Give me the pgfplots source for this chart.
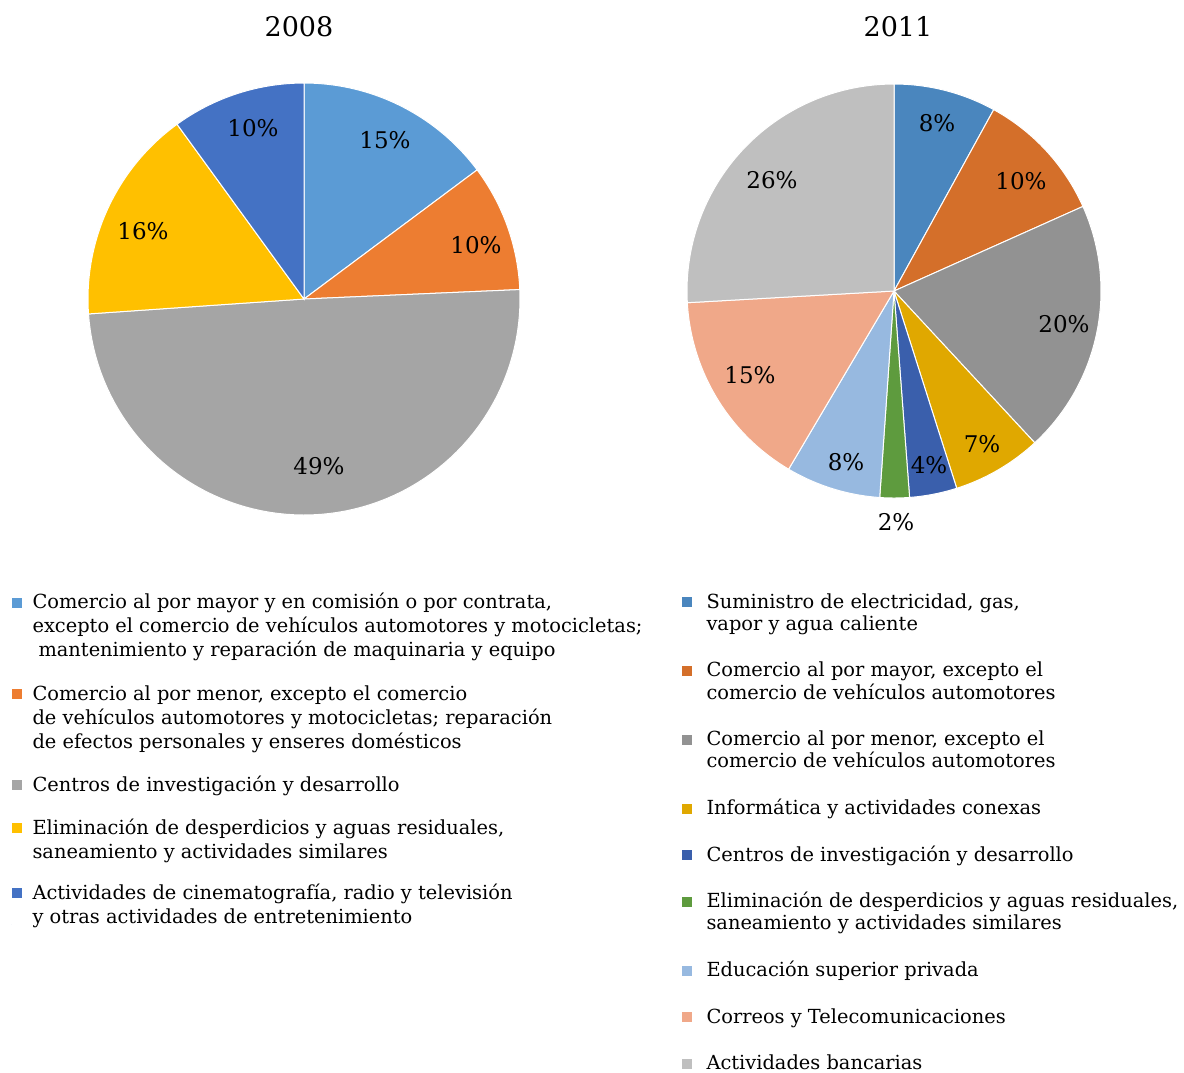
\documentclass[border=0pt]{standalone}
\usepackage{pgfplots}
\pgfplotsset{compat=1.18}
\usepgfplotslibrary{polar}
\usepackage{fontspec}
\setmainfont{DejaVu Serif}
\definecolor{a1}{HTML}{5B9BD5}
\definecolor{a2}{HTML}{ED7D31}
\definecolor{a3}{HTML}{A5A5A5}
\definecolor{a4}{HTML}{FFC000}
\definecolor{a5}{HTML}{4472C4}
\definecolor{b1}{HTML}{4A86BE}
\definecolor{b2}{HTML}{D46F2A}
\definecolor{b3}{HTML}{929292}
\definecolor{b4}{HTML}{E0A800}
\definecolor{b5}{HTML}{3A5FAC}
\definecolor{b6}{HTML}{5E9B3E}
\definecolor{b7}{HTML}{97B9E0}
\definecolor{b8}{HTML}{F0A889}
\definecolor{b9}{HTML}{BFBFBF}
% legend squares; the invisible path gives multi-line entries their depth
\pgfplotsset{
  piestyle/.style={scale only axis, hide axis, ymin=0, ymax=1, xmin=0, xmax=360, anchor=center, clip=false},
  legZ/.style={legend image code/.code={\fill[##1, draw=none] (0pt,0.5pt) rectangle (5pt,5.5pt);}},
  legA/.style={legend image code/.code={\fill[##1, draw=none] (0pt,0.5pt) rectangle (5pt,5.5pt); \path (0pt,0pt) -- (0pt,-25.5pt);}},
  legB/.style={legend image code/.code={\fill[##1, draw=none] (0pt,0.5pt) rectangle (5pt,5.5pt); \path (0pt,0pt) -- (0pt,-12.5pt);}},
  legC/.style={legend image code/.code={\fill[##1, draw=none] (0pt,0.5pt) rectangle (5pt,5.5pt); \path (0pt,0pt) -- (0pt,-12.5pt);}},
}
% slice between cumulative shares #1 and #2 (percent), clockwise from the top
\newcommand\slice[4]{\addplot[fill=#3, draw=white, line width=0.5pt, domain={90-3.6*#2}:{90-3.6*#1}, samples=80, #4] {1} -- (axis cs:0,0) -- cycle;}
\newcommand\lt[1]{\begin{tabular}[t]{@{}l@{}}#1\end{tabular}}
\begin{document}
\begin{tikzpicture}
\path[use as bounding box] (0,0) rectangle (592pt,-536pt);
\begin{polaraxis}[piestyle, at={(152pt,-149.5pt)}, width=216pt, height=216pt,
  legend style={at={(axis description cs:-0.1782,-0.178)}, anchor=north west, draw=none, fill=none, inner sep=0pt, outer sep=0pt,
    font=\fontsize{9.7}{12}\selectfont, row sep=11.5pt, column sep=5.5pt, nodes={inner sep=0pt}, cells={anchor=base west}}]
\slice{0}{14.8}{a1}{legA}
\addlegendentry{\lt{Comercio al por mayor y en comisión o por contrata,\\excepto el comercio de vehículos automotores y motocicletas;\\\hspace{3pt}mantenimiento y reparación de maquinaria y equipo}}
\slice{14.8}{24.3}{a2}{legA}
\addlegendentry{\lt{Comercio al por menor, excepto el comercio\\de vehículos automotores y motocicletas; reparación\\de efectos personales y enseres domésticos}}
\slice{24.3}{73.9}{a3}{legZ}
\addlegendentry{\lt{Centros de investigación y desarrollo}}
\slice{73.9}{90.0}{a4}{legB}
\addlegendentry{\lt{Eliminación de desperdicios y aguas residuales,\\saneamiento y actividades similares}}
\slice{90.0}{100}{a5}{legB}
\addlegendentry{\lt{Actividades de cinematografía, radio y televisión\\y otras actividades de entretenimiento}}
\end{polaraxis}
\begin{polaraxis}[piestyle, at={(447pt,-145.5pt)}, width=207pt, height=207pt,
  legend style={at={(axis description cs:-0.0145,-0.2285)}, anchor=north west, draw=none, fill=none, inner sep=0pt, outer sep=0pt,
    font=\fontsize{9.7}{11}\selectfont, row sep=14pt, column sep=7.5pt, nodes={inner sep=0pt}, cells={anchor=base west}}]
\slice{0}{8.0}{b1}{legC}
\addlegendentry{\lt{Suministro de electricidad, gas,\\vapor y agua caliente}}
\slice{8.0}{18.3}{b2}{legC}
\addlegendentry{\lt{Comercio al por mayor, excepto el\\comercio de vehículos automotores}}
\slice{18.3}{38.1}{b3}{legC}
\addlegendentry{\lt{Comercio al por menor, excepto el\\comercio de vehículos automotores}}
\slice{38.1}{45.1}{b4}{legZ}
\addlegendentry{\lt{Informática y actividades conexas}}
\slice{45.1}{48.8}{b5}{legZ}
\addlegendentry{\lt{Centros de investigación y desarrollo}}
\slice{48.8}{51.1}{b6}{legC}
\addlegendentry{\lt{Eliminación de desperdicios y aguas residuales,\\saneamiento y actividades similares}}
\slice{51.1}{58.5}{b7}{legZ}
\addlegendentry{\lt{Educación superior privada}}
\slice{58.5}{74.1}{b8}{legZ}
\addlegendentry{\lt{Correos y Telecomunicaciones}}
\slice{74.1}{100}{b9}{legZ}
\addlegendentry{\lt{Actividades bancarias}}
\end{polaraxis}
\begin{scope}[every node/.style={font=\fontsize{13.5}{16}\selectfont}]
\node at (149.5pt,-13.5pt) {2008};
\node at (449pt,-13.5pt) {2011};
\end{scope}
\begin{scope}[every node/.style={font=\fontsize{11.5}{13}\selectfont}]
\node at (192.5pt,-70pt) {15\%};
\node at (238pt,-122.5pt) {10\%};
\node at (159.5pt,-233pt) {49\%};
\node at (71.5pt,-115.5pt) {16\%};
\node at (126.5pt,-64pt) {10\%};
\node at (468.5pt,-61.5pt) {8\%};
\node at (510.5pt,-90.5pt) {10\%};
\node at (532pt,-162pt) {20\%};
\node at (491pt,-222pt) {7\%};
\node at (464.5pt,-232.5pt) {4\%};
\node at (448pt,-261pt) {2\%};
\node at (423pt,-231pt) {8\%};
\node at (375pt,-187.5pt) {15\%};
\node at (386pt,-90pt) {26\%};
\end{scope}
\end{tikzpicture}
\end{document}
